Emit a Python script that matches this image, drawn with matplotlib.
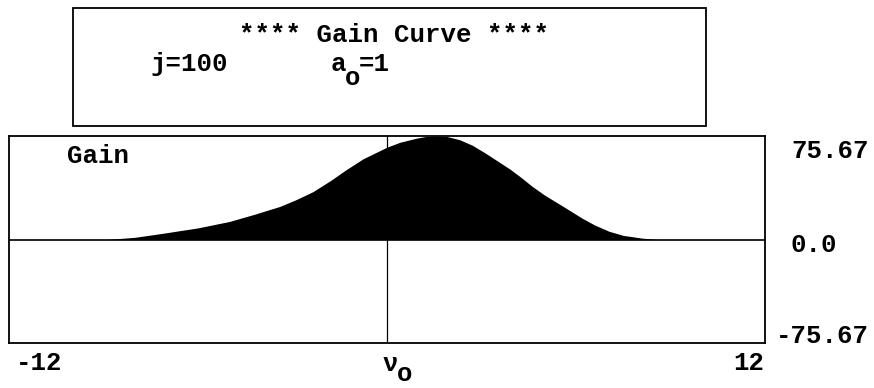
import numpy as np
import matplotlib
matplotlib.use('Agg')
import matplotlib.pyplot as plt
from matplotlib.patches import Rectangle

# gain curve
nu = [-12, -8.9, -8.0, -7.1, -6.0, -5.0, -4.2, -3.4, -2.9, -2.35, -1.8, -1.3,
      -0.76, 0.0, 0.4, 0.92, 1.2, 1.56, 1.9, 2.3, 2.7, 3.1, 3.5, 3.9, 4.25,
      4.6, 5.0, 5.5, 5.85, 6.2, 6.6, 7.05, 7.5, 8.1, 8.6, 12]
gain = [0, 0, 1.6, 4.6, 8.5, 13.2, 18.5, 24.2, 29, 35, 43, 51,
        59, 67.5, 71, 74, 75.2, 75.67, 75.3, 73, 69, 63.5, 57.5, 51.5, 45.5,
        39, 32.5, 25.5, 20.5, 15.5, 10.5, 6, 3, 1, 0, 0]

xlim = [-12, 12]
ylim = [-75.67, 75.67]
title = '**** Gain Curve ****'
params = ['j=100', 'a', 'o', '=1']

plt.rcParams['font.family'] = ['Liberation Mono', 'DejaVu Sans Mono']
plt.rcParams['font.weight'] = 'bold'
fs = 18.5

fig = plt.figure(figsize=(8.74, 3.88), dpi=100)
W, H = 874.0, 388.0

def fx(px):
    return px / W

def fy(py):
    return 1 - py / H

def label(px, py, s, ha='left'):
    # py is the text baseline in pixels from the top
    fig.text(fx(px), fy(py), s, ha=ha, va='baseline', fontsize=fs)

# header box
fig.patches.append(Rectangle((fx(73), fy(126)), fx(706) - fx(73), fy(8) - fy(126),
                             transform=fig.transFigure, fill=False, lw=1.3, color='black'))
label(394, 42, title, ha='center')
label(151, 71, params[0])
label(331, 71, params[1])
label(345, 85, params[2])
label(359, 71, params[3])

# main plot
ax = fig.add_axes([fx(9), fy(343), fx(765) - fx(9), fy(136) - fy(343)])
ax.fill_between(nu, gain, 0, color='black', lw=0)
ax.axhline(0, color='black', lw=1.2)
ax.axvline(0, color='black', lw=0.9)
ax.set_xlim(xlim)
ax.set_ylim(ylim)
ax.set_xticks([])
ax.set_yticks([])
for s in ax.spines.values():
    s.set_linewidth(1.3)

label(67, 163, 'Gain')

# axis labels
label(16, 370, '%d' % xlim[0])
label(764, 370, '%d' % xlim[1], ha='right')
label(383, 371, 'ν')
label(397, 381, 'o')

label(869, 158, '%.2f' % ylim[1], ha='right')
label(790, 252, '0.0')
label(869, 343, '%.2f' % ylim[0], ha='right')

fig.savefig('out.png', dpi=100)
